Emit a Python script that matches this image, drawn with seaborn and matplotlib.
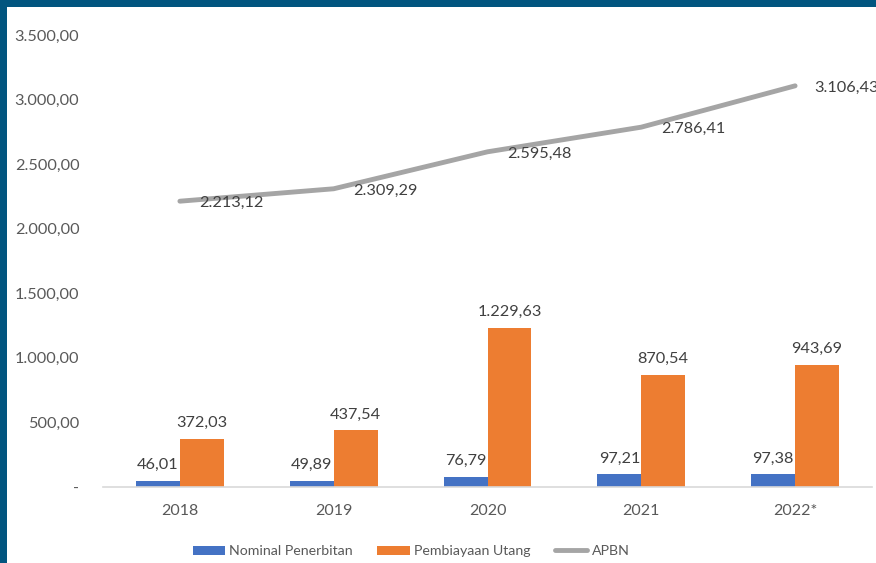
import numpy as np
import pandas as pd
import matplotlib
matplotlib.use("Agg")
import matplotlib.pyplot as plt
import seaborn as sns
from matplotlib.patches import Patch, Rectangle
from matplotlib.lines import Line2D

years = ["2018", "2019", "2020", "2021", "2022*"]
nominal = [46.01, 49.89, 76.79, 97.21, 97.38]
pembiayaan = [372.03, 437.54, 1229.63, 870.54, 943.69]
apbn = [2213.12, 2309.29, 2595.48, 2786.41, 3106.43]
yticks = [0, 500, 1000, 1500, 2000, 2500, 3000, 3500]
series_names = ["Nominal Penerbitan", "Pembiayaan Utang", "APBN"]

BLUE = "#4472C4"
ORANGE = "#ED7D31"
GRAY = "#A5A5A5"
TXT = "#595959"

sns.set_theme(style="white")
plt.rcParams["font.family"] = ["Lato", "DejaVu Sans"]


def fmt(v, dec=2):
    s = f"{v:,.{dec}f}"
    return s.replace(",", "X").replace(".", ",").replace("X", ".")


df = pd.DataFrame({
    "year": years * 2,
    "value": nominal + pembiayaan,
    "series": [series_names[0]] * len(years) + [series_names[1]] * len(years),
})

fig = plt.figure(figsize=(8.76, 5.63), dpi=100)
ax = fig.add_axes([103 / 876, 1 - 487 / 563, (872 - 103) / 876, (487 - 35) / 563])

sns.barplot(data=df, x="year", y="value", hue="series", order=years,
            hue_order=series_names[:2], palette=[BLUE, ORANGE],
            width=0.57, gap=0, ax=ax, legend=False, saturation=1,
            edgecolor="none", linewidth=0)
sns.pointplot(x=years, y=apbn, order=years, color=GRAY, marker="",
              linewidth=3.5, errorbar=None, ax=ax)

ax.set_xlim(-0.5, len(years) - 0.5)
ax.set_ylim(0, 3500)
ax.set_yticks(yticks)
ax.set_yticklabels(["-" if t == 0 else fmt(t) for t in yticks])
ax.set_xlabel("")
ax.set_ylabel("")
ax.tick_params(axis="y", length=0, pad=17, labelsize=11.7, labelcolor=TXT)
ax.tick_params(axis="x", length=0, pad=12, labelsize=11.5, labelcolor=TXT)
for s in ["top", "right", "left"]:
    ax.spines[s].set_visible(False)
ax.spines["bottom"].set_color("#D9D9D9")
ax.spines["bottom"].set_linewidth(1.2)

# bar labels
for cont, vals in zip(ax.containers[:2], [nominal, pembiayaan]):
    for rect, v in zip(cont, vals):
        ax.annotate(fmt(v), (rect.get_x() + rect.get_width() / 2, v),
                    xytext=(0, 6.5), textcoords="offset points",
                    ha="center", va="bottom", fontsize=11.7, color="#404040")

# line labels (last one runs off the right edge, as in the reference)
for i, v in enumerate(apbn):
    ax.annotate(fmt(v), (i, v), xytext=(14, -1.5), textcoords="offset points",
                ha="left", va="center", fontsize=11.7, color="#404040",
                annotation_clip=False)

handles = [Patch(facecolor=BLUE, edgecolor="none"),
           Patch(facecolor=ORANGE, edgecolor="none"),
           Line2D([0], [0], color=GRAY, lw=3.5)]
fig.legend(handles, series_names, loc="center", bbox_to_anchor=(411 / 876, 1 - 551 / 563),
           ncol=3, frameon=False, fontsize=10.2, handlelength=2.3, handleheight=0.6,
           handletextpad=0.3, columnspacing=1.7, labelcolor=TXT)

# frame border (top and left)
fig.add_artist(Rectangle((0, 1 - 7 / 563), 1, 7 / 563, transform=fig.transFigure,
                         facecolor="#02557F", edgecolor="none"))
fig.add_artist(Rectangle((0, 0), 7 / 876, 1, transform=fig.transFigure,
                         facecolor="#02557F", edgecolor="none"))

fig.savefig("out.png", dpi=100, facecolor="white")
